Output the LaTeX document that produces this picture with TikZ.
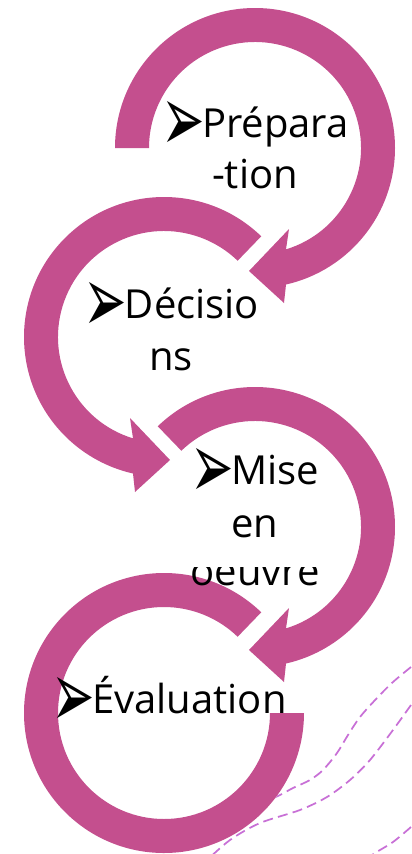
\documentclass[tikz,border=0pt]{standalone}
\usepackage{fontspec}
\usepackage{graphicx}
\setmainfont{Open Sans}
\newfontfamily\bulletfont{DejaVu Sans}
\newcommand{\bul}{\raisebox{-11pt}{\scalebox{1.3}[2.35]{\bulletfont ➢}}\hspace{-2pt}}
\usetikzlibrary{calc}
\definecolor{ringpink}{RGB}{196,79,142}
\definecolor{dashpurple}{RGB}{200,112,214}
\begin{document}
\begin{tikzpicture}[x=0.75pt,y=0.75pt,
  ring/.style={fill=ringpink},
  lbl/.style={anchor=base,inner sep=0pt,font=\fontsize{30}{36}\selectfont},
  deco/.style={draw=dashpurple,line width=1.3pt,dash pattern=on 7.5pt off 4pt}]
\useasboundingbox (0,0) rectangle (411,-854);
\coordinate (C1) at (255,-148);
\coordinate (C2) at (164,-337);
\coordinate (C3) at (255,-527);
\coordinate (C4) at (164,-713);
% decorative dashed curves
\draw[deco] plot[smooth] coordinates {(411,-667) (393,-682) (377,-698) (360,-717) (348,-735) (337,-753) (323,-770) (310,-780) (293,-788) (280,-795) (262,-803) (245,-810)};
\draw[deco] plot[smooth] coordinates {(411,-705) (393,-730) (370,-760) (350,-780) (327,-797) (300,-810) (260,-823) (230,-840) (205,-862)};
\draw[deco] plot[smooth] coordinates {(411,-827) (393,-842) (375,-853) (365,-860)};
\fill[white] (C4) circle[radius=140];
% ring 1
\fill[ring] ($(C1)+(180:140)$) arc[start angle=180,end angle=-77.2,radius=140]
  -- ($(C1)+(29,-155)$) -- ($(C1)+(-6,-123)$) -- ($(C1)+(34,-81)$)
  -- ($(C1)+(-73:106)$) arc[start angle=-73,end angle=180,radius=106] -- cycle;
% ring 2
\fill[ring] ($(C2)+(46:140)$) arc[start angle=46,end angle=257.2,radius=140]
  -- ($(C2)+(-29,-155)$) -- ($(C2)+(6,-123)$) -- ($(C2)+(-34,-81)$)
  -- ($(C2)+(253:106)$) arc[start angle=253,end angle=46,radius=106] -- cycle;
% ring 3
\fill[ring] ($(C3)+(134:140)$) arc[start angle=134,end angle=-77.2,radius=140]
  -- ($(C3)+(29,-155)$) -- ($(C3)+(-6,-123)$) -- ($(C3)+(34,-81)$)
  -- ($(C3)+(-73:106)$) arc[start angle=-73,end angle=134,radius=106] -- cycle;
% ring 4
\fill[ring] ($(C4)+(46:140)$) arc[start angle=46,end angle=360,radius=140]
  -- ($(C4)+(0:106)$) arc[start angle=360,end angle=46,radius=106] -- cycle;
% texts
\node[lbl] (t1a) at (255,-137) {\bul Prépara};
\node[lbl] (t1b) at (255,-188) {-tion};
\node[lbl] (t2a) at (171.5,-318) {\bul Décisio};
\node[lbl] (t2b) at (171,-370) {ns};
\node[lbl] (t3a) at (255,-484) {\bul Mise};
\node[lbl] (t3b) at (255,-537) {en};
\begin{scope}
\clip (0,-567) rectangle (411,-854);
\node[lbl] (t3c) at (255,-585) {oeuvre};
\end{scope}
\node[lbl] (t4) at (169,-713) {\bul Évaluation};
\end{tikzpicture}
\end{document}
